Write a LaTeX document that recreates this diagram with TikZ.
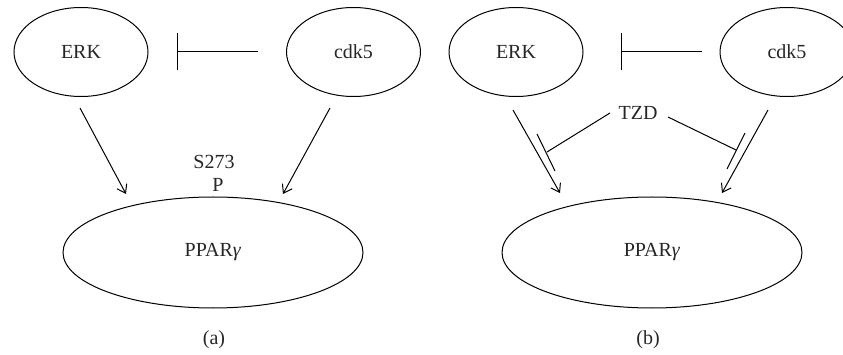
\documentclass[tikz,border=0pt]{standalone}
\usepackage{fontspec}
\setmainfont{Liberation Serif}
\usetikzlibrary{arrows.meta,shapes.geometric}
\begin{document}
\begin{tikzpicture}[x=1pt,y=-1pt,
  every node/.style={font=\fontsize{20}{24}\selectfont, text=black!85},
  small/.style={draw, ellipse, line width=1pt, minimum width=134pt, minimum height=89pt, inner sep=0pt},
  big/.style={draw, ellipse, line width=1pt, minimum width=300pt, minimum height=111pt, inner sep=0pt},
  lbl/.style={inner sep=0pt},
  act/.style={line width=1pt, -{Straight Barb[length=8pt,width=11pt,line width=1pt]}},
  inh/.style={line width=1pt, -{Bar[width=37pt,line width=1pt]}},
  ln/.style={line width=1pt}]
\clip (0,0) rectangle (843,355);
% panel (a)
\node[small] (erka) at (81,52) {ERK};
\node[small] (cdka) at (353.5,52) {cdk5};
\node[big] (ppara) at (213,252.5) {PPAR\textit{γ}};
\node[lbl] (s273) at (214,162) {S273};
\node[lbl] (pa) at (218,185) {P};
\node[lbl] (capa) at (214,340) {(a)};
\coordinate (ia1) at (258,52);
\coordinate (ia2) at (177,52);
\draw[inh] (ia1) -- (ia2);
\coordinate (aa1) at (80,108);
\coordinate (aa2) at (126,194);
\draw[act] (aa1) -- (aa2);
\coordinate (ab1) at (330,108);
\coordinate (ab2) at (283,194);
\draw[act] (ab1) -- (ab2);
% panel (b)
\node[small] (erkb) at (516,52) {ERK};
\node[small] (cdkb) at (787,52) {cdk5};
\node[big] (pparb) at (652,252.5) {PPAR\textit{γ}};
\node[lbl] (tzd) at (638,113) {TZD};
\node[lbl] (capb) at (648,340) {(b)};
\coordinate (ib1) at (702,52);
\coordinate (ib2) at (621,52);
\draw[inh] (ib1) -- (ib2);
\coordinate (ba1) at (513,110);
\coordinate (ba2) at (560,193);
\draw[act] (ba1) -- (ba2);
\coordinate (bb1) at (768,110);
\coordinate (bb2) at (722,193);
\draw[act] (bb1) -- (bb2);
% TZD inhibitions
\coordinate (tl0) at (610,113);
\coordinate (tl) at (547,152);
\coordinate (tlb1) at (537,134);
\coordinate (tlb2) at (555,171);
\draw[ln] (tl0) -- (tl);
\draw[ln] (tlb1) -- (tlb2);
\coordinate (tr0) at (668,117);
\coordinate (tr) at (736,150);
\coordinate (trb1) at (745,133);
\coordinate (trb2) at (727,169);
\draw[ln] (tr0) -- (tr);
\draw[ln] (trb1) -- (trb2);
\end{tikzpicture}
\end{document}
